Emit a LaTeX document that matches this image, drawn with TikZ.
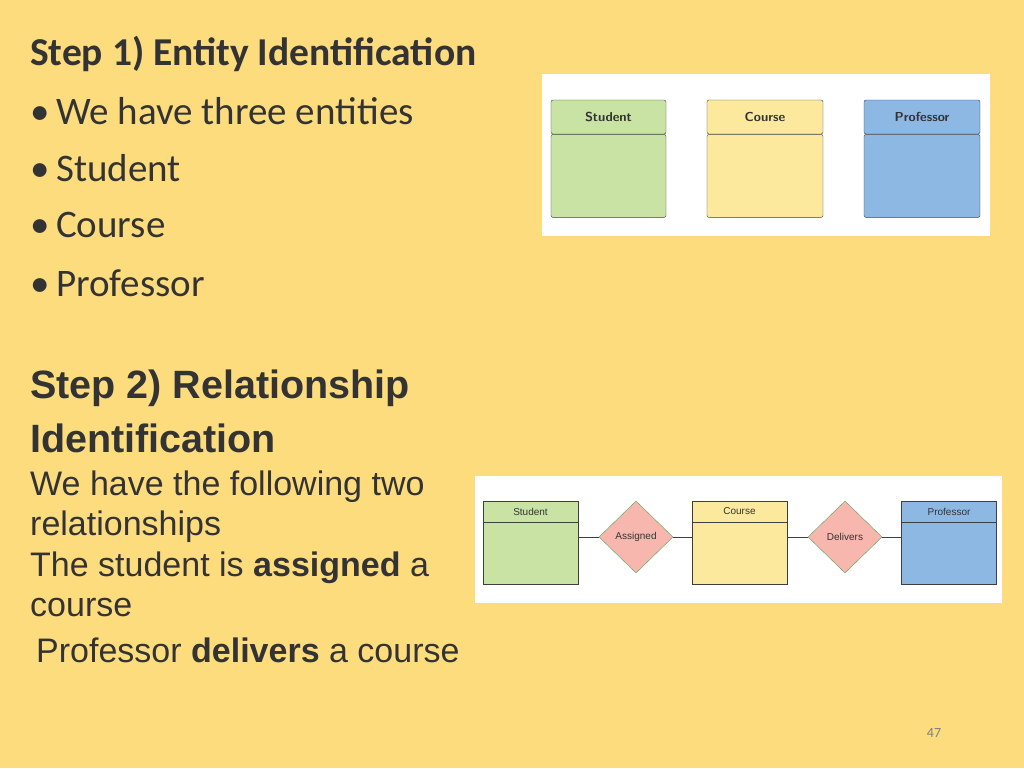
\documentclass[tikz,border=0pt]{standalone}
\usepackage{fontspec}
\setmainfont{Liberation Sans}
\newfontfamily\calib{Carlito}
\usetikzlibrary{shapes.geometric,positioning}
\definecolor{slidebg}{HTML}{FDDC7E}
\definecolor{entgreen}{HTML}{C9E3A5}
\definecolor{entyellow}{HTML}{FCE99E}
\definecolor{entblue}{HTML}{8DB8E3}
\definecolor{relpink}{HTML}{F7B7AE}
\definecolor{edgegray}{HTML}{3F3F3F}
\definecolor{ink}{HTML}{333333}
\newcommand{\bul}{\makebox[26pt][l]{\textbullet}}
\begin{document}
\begin{tikzpicture}[x=1pt,y=1pt,
    head/.style={rectangle, draw=edgegray, rounded corners=2pt, minimum width=#1, minimum height=34pt, font=\fontsize{13}{13}\selectfont\sffamily\bfseries, text=ink},
    body/.style={rectangle, draw=edgegray, rounded corners=2pt, minimum width=#1, minimum height=83pt},
    shead/.style={rectangle, draw=edgegray, minimum width=95pt, minimum height=21pt, font=\fontsize{10}{10}\selectfont, text=ink},
    sbody/.style={rectangle, draw=edgegray, minimum width=95pt, minimum height=62pt},
    rel/.style={diamond, draw=gray!70!green, fill=relpink, minimum width=74pt, minimum height=72pt, inner sep=0pt, font=\fontsize{10}{10}\selectfont, text=ink},
    link/.style={draw=edgegray, thick},
    txt/.style={anchor=west, inner sep=0pt, text=ink}
]
    \fill[slidebg] (0,0) rectangle (1024,-768);
    \useasboundingbox (0,0) rectangle (1024,-768);

    % left column text
    \node[txt, font=\calib\bfseries\fontsize{39.5}{39.5}\selectfont] (s1) at (30,-54) {Step 1) Entity Identification};
    \node[txt, font=\calib\fontsize{39}{39}\selectfont] (b1) at (30,-111) {\bul We have three entities};
    \node[txt, font=\calib\fontsize{39}{39}\selectfont] (b2) at (30,-168) {\bul Student};
    \node[txt, font=\calib\fontsize{39}{39}\selectfont] (b3) at (30,-225) {\bul Course};
    \node[txt, font=\calib\fontsize{39}{39}\selectfont] (b4) at (30,-283) {\bul Professor};

    \node[txt, font=\bfseries\fontsize{39.5}{39.5}\selectfont] (s2a) at (30,-388) {Step 2) Relationship};
    \node[txt, font=\bfseries\fontsize{39.5}{39.5}\selectfont] (s2b) at (30,-438) {Identification};
    \node[txt, font=\fontsize{34}{34}\selectfont] (t1) at (30,-487) {We have the following two};
    \node[txt, font=\fontsize{34}{34}\selectfont] (t2) at (30,-527) {relationships};
    \node[txt, font=\fontsize{34}{34}\selectfont] (t3) at (30,-568) {The student is \textbf{assigned} a};
    \node[txt, font=\fontsize{34}{34}\selectfont] (t4) at (30,-608) {course};
    \node[txt, font=\fontsize{34}{34}\selectfont] (t5) at (36,-650) {Professor \textbf{delivers} a course};

    % entity picture
    \fill[white] (542,-74) rectangle (990,-236);
    \node[head=115pt, fill=entgreen] (stuH) at (608.5,-117) {Student};
    \node[body=115pt, fill=entgreen, below=0pt of stuH] (stuB) {};
    \node[head=116pt, fill=entyellow] (couH) at (765,-117) {Course};
    \node[body=116pt, fill=entyellow, below=0pt of couH] (couB) {};
    \node[head=116pt, fill=entblue] (proH) at (922,-117) {Professor};
    \node[body=116pt, fill=entblue, below=0pt of proH] (proB) {};

    % relationship picture
    \fill[white] (475,-476) rectangle (1002,-603);
    \node[shead, fill=entgreen] (stuRH) at (530.5,-511.5) {Student};
    \node[sbody, fill=entgreen, below=0pt of stuRH] (stuRB) {};
    \node[shead, fill=entyellow] (couRH) at (739.5,-511.5) {Course};
    \node[sbody, fill=entyellow, below=0pt of couRH] (couRB) {};
    \node[shead, fill=entblue] (proRH) at (949,-511.5) {Professor};
    \node[sbody, fill=entblue, below=0pt of proRH] (proRB) {};
    \node[rel] (asg) at (636,-537) {Assigned};
    \node[rel] (dlv) at (845,-537) {Delivers};

    \draw[link] (asg.west) -- (asg.west -| stuRB.east);
    \draw[link] (asg.east) -- (asg.east -| couRB.west);
    \draw[link] (dlv.west) -- (dlv.west -| couRB.east);
    \draw[link] (dlv.east) -- (dlv.east -| proRB.west);

    \node[font=\calib\fontsize{14}{14}\selectfont, text=gray] (pg) at (934,-733) {47};
\end{tikzpicture}
\end{document}
